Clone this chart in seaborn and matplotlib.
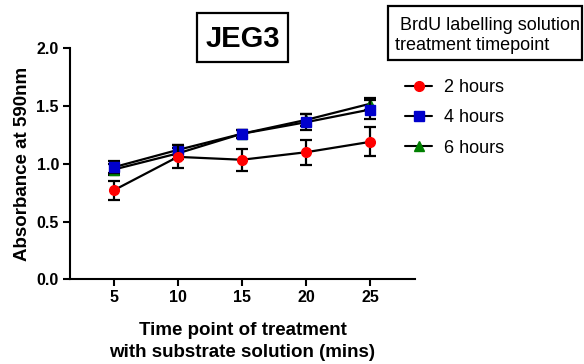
import matplotlib
matplotlib.use("Agg")
import matplotlib.pyplot as plt
from matplotlib.lines import Line2D
from matplotlib.patches import Rectangle
import seaborn as sns
import pandas as pd
import numpy as np

sns.set_theme(style="ticks")
plt.rcParams['font.family'] = ['Liberation Sans', 'DejaVu Sans']
plt.rcParams.update({"text.color": "black", "axes.labelcolor": "black",
                     "xtick.color": "black", "ytick.color": "black"})

time_points = [5, 10, 15, 20, 25]
groups = ["2 hours", "4 hours", "6 hours"]
mean_2h = [0.77, 1.06, 1.035, 1.10, 1.19]
sem_2h = [0.08, 0.10, 0.095, 0.11, 0.125]
mean_4h = [0.97, 1.12, 1.26, 1.36, 1.47]
sem_4h = [0.05, 0.04, 0.035, 0.07, 0.08]
mean_6h = [0.95, 1.09, 1.26, 1.38, 1.52]
sem_6h = [0.05, 0.05, 0.035, 0.05, 0.05]
colors = {"2 hours": "#ff0000", "4 hours": "#0000cc", "6 hours": "#008000"}
markers = {"2 hours": "o", "4 hours": "s", "6 hours": "^"}

means = {"2 hours": mean_2h, "4 hours": mean_4h, "6 hours": mean_6h}
sems = {"2 hours": sem_2h, "4 hours": sem_4h, "6 hours": sem_6h}

rows = []
for g in groups:
    for t, m, s in zip(time_points, means[g], sems[g]):
        rows.append({"time": t, "group": g, "mean": m, "sem": s})
df = pd.DataFrame(rows)

W, H = 584, 364
fig = plt.figure(figsize=(5.84, 3.64), dpi=100)
ax = fig.add_axes([70 / W, 1 - 279.3 / H, 345 / W, 231 / H])

draw_order = ["6 hours", "4 hours", "2 hours"]
for i, g in enumerate(draw_order):
    sub = df[df["group"] == g]
    ax.errorbar(sub["time"], sub["mean"], yerr=sub["sem"], fmt="none",
                ecolor="black", elinewidth=1.6, capsize=4.5, capthick=1.6, zorder=2 + i * 2)
    sns.lineplot(data=sub, x="time", y="mean", ax=ax, color="black", lw=1.6,
                 marker=None, legend=False, zorder=2 + i * 2, estimator=None)
    ax.plot(sub["time"], sub["mean"], linestyle="none", marker=markers[g],
            color=colors[g], markersize=7 if g != "6 hours" else 7.5,
            markeredgecolor=colors[g], zorder=3 + i * 2)

ax.set_xlim(1.6, 28.5)
ax.set_ylim(0, 2.0)
ax.set_xticks(time_points)
ax.set_yticks([0.0, 0.5, 1.0, 1.5, 2.0])
ax.set_yticklabels(["0.0", "0.5", "1.0", "1.5", "2.0"])
for lab in ax.get_xticklabels() + ax.get_yticklabels():
    lab.set_fontweight("bold")
    lab.set_fontsize(11.5)
ax.tick_params(axis="both", direction="out", length=5, width=1.5, color="black", pad=3)
for side in ["left", "bottom"]:
    ax.spines[side].set_linewidth(1.5)
    ax.spines[side].set_color("black")
sns.despine(ax=ax)
ax.set_xlabel("Time point of treatment\nwith substrate solution (mins)", fontweight="bold",
              fontsize=13.5, labelpad=12, linespacing=1.4)
ax.set_ylabel("Absorbance at 590nm", fontweight="bold", fontsize=13.5, labelpad=4)

fig.text(243 / W, 1 - 39 / H, "JEG3", ha="center", va="center", fontsize=21,
         fontweight="bold")
fig.add_artist(Rectangle((197 / W, 1 - 62 / H), 91 / W, 49 / H, transform=fig.transFigure,
                         fill=False, ec="black", lw=1.6))

fig.add_artist(Rectangle((388 / W, 1 - 60 / H), 194 / W, 54 / H, transform=fig.transFigure,
                         fill=False, ec="black", lw=1.6))
fig.text(400 / W, 1 - 25 / H, "BrdU labelling solution", ha="left", va="center", fontsize=13)
fig.text(395 / W, 1 - 45 / H, "treatment timepoint", ha="left", va="center", fontsize=13)

handles = [Line2D([0], [0], color="black", lw=1.5, marker=markers[g], markersize=7,
                  markerfacecolor=colors[g], markeredgecolor=colors[g]) for g in groups]
fig.legend(handles, groups, loc="upper left", bbox_to_anchor=(405 / W, 1 - 79 / H),
           frameon=False, fontsize=13, handlelength=1.5, labelspacing=0.74, handletextpad=0.65,
           borderpad=0, borderaxespad=0)

fig.savefig("out.png", dpi=100)
